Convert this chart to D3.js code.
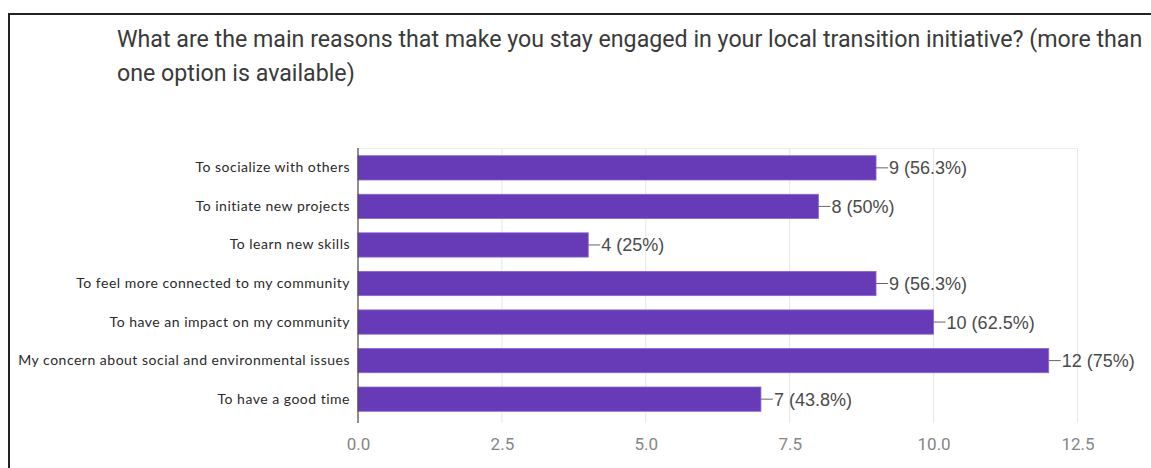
<!DOCTYPE html>
<html>
<head>
<meta charset="utf-8">
<script src="https://cdn.jsdelivr.net/npm/d3@7"></script>
<style>
  html, body { margin: 0; padding: 0; background: #fff; }
  svg { display: block; }
</style>
</head>
<body>
<svg id="chart" width="1151" height="468"></svg>
<script>
// Survey responses: reasons for staying engaged
const categories = [
  "To socialize with others",
  "To initiate new projects",
  "To learn new skills",
  "To feel more connected to my community",
  "To have an impact on my community",
  "My concern about social and environmental issues",
  "To have a good time"
];
const counts = [9, 8, 4, 9, 10, 12, 7];
const percents = ["56.3%", "50%", "25%", "56.3%", "62.5%", "75%", "43.8%"];
const xTicks = [0, 2.5, 5, 7.5, 10, 12.5];
const titleLines = [
  "What are the main reasons that make you stay engaged in your local transition initiative? (more than",
  "one option is available)"
];

const svg = d3.select("#chart");
const W = 1151, H = 468;

// outer frame (top and left edges visible)
svg.append("path")
  .attr("d", `M9,${H + 5} L9,14 L${W + 5},14`)
  .attr("fill", "none")
  .attr("stroke", "#222")
  .attr("stroke-width", 2);

// title
svg.append("g").selectAll("text")
  .data(titleLines)
  .join("text")
  .attr("x", 117)
  .attr("y", (d, i) => 47 + i * 34)
  .attr("font-family", "Roboto, sans-serif")
  .attr("font-size", 23.2)
  .attr("fill", "#3a3a3a")
  .text(d => d);

const x = d3.scaleLinear().domain([0, 12.5]).range([358, 1077.5]);
const y = d3.scaleBand().domain(categories).range([148, 419]).paddingInner(0.37).paddingOuter(0.2);

// vertical gridlines
svg.append("g").selectAll("line")
  .data(xTicks.slice(1))
  .join("line")
  .attr("x1", d => x(d)).attr("x2", d => x(d))
  .attr("y1", 148).attr("y2", 423)
  .attr("stroke", "#e6e6e6")
  .attr("stroke-width", 1);

// top edge of plot area
svg.append("line")
  .attr("x1", x(0)).attr("x2", x(12.5))
  .attr("y1", 148.5).attr("y2", 148.5)
  .attr("stroke", "#ececec");

// x axis tick labels
const xAxis = d3.axisBottom(x).tickValues(xTicks).tickFormat(d3.format(".1f")).tickSize(0).tickPadding(0);
const gx = svg.append("g").attr("transform", "translate(0,450)").call(xAxis);
gx.select(".domain").remove();
gx.selectAll("text")
  .attr("dy", 0)
  .attr("font-family", "Roboto, sans-serif")
  .attr("font-size", 17)
  .attr("fill", "#858585");

// bars
svg.append("g").selectAll("rect")
  .data(categories)
  .join("rect")
  .attr("x", x(0))
  .attr("y", d => y(d))
  .attr("width", (d, i) => x(counts[i]) - x(0))
  .attr("height", y.bandwidth())
  .attr("fill", "#673ab7")
  .attr("stroke", "#8a68cf")
  .attr("stroke-width", 0.8);

// baseline axis
svg.append("line")
  .attr("x1", x(0)).attr("x2", x(0))
  .attr("y1", 148).attr("y2", 423)
  .attr("stroke", "#444")
  .attr("stroke-width", 1.2);

// category labels
const yAxis = d3.axisLeft(y).tickSize(0).tickPadding(8);
const gy = svg.append("g").attr("transform", `translate(${x(0)},0)`).call(yAxis);
gy.select(".domain").remove();
gy.selectAll("text")
  .attr("font-family", "Lato, 'Noto Sans', sans-serif")
  .attr("font-size", 14)
  .attr("letter-spacing", 0.5)
  .attr("fill", "#2a2a2a");

// value labels with leader lines
const vals = svg.append("g").selectAll("g")
  .data(categories)
  .join("g")
  .attr("transform", (d, i) => `translate(${x(counts[i])},${y(d) + y.bandwidth() / 2})`);
vals.append("line")
  .attr("x1", 0).attr("x2", 12)
  .attr("y1", 0).attr("y2", 0)
  .attr("stroke", "#666")
  .attr("stroke-width", 1);
vals.append("text")
  .attr("x", 13)
  .attr("dy", "0.36em")
  .attr("font-family", "'Liberation Sans', Arial, sans-serif")
  .attr("font-size", 18)
  .attr("fill", "#4a4a4a")
  .text((d, i) => `${counts[i]} (${percents[i]})`);
</script>
</body>
</html>
